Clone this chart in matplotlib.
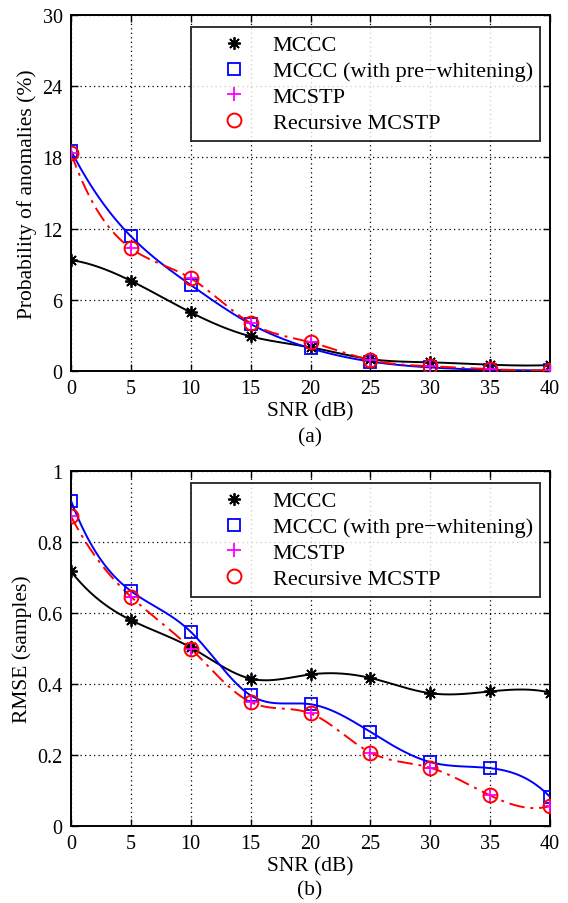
import numpy as np
import matplotlib
matplotlib.use("Agg")
import matplotlib.pyplot as plt
from matplotlib.lines import Line2D

plt.rcParams['font.family'] = ['Liberation Serif', 'DejaVu Serif']
plt.rcParams['mathtext.fontset'] = 'stix'

snr = [0, 5, 10, 15, 20, 25, 30, 35, 40]

# (a) Probability of anomalies (%)
pa_mccc = [9.35, 7.6, 4.94, 2.92, 2.0, 1.0, 0.73, 0.53, 0.5]
pa_mccc_pw = [18.57, 11.35, 7.25, 3.96, 1.91, 0.8, 0.3, 0.1, 0.05]
pa_mcstp = [18.37, 10.34, 7.81, 4.04, 2.42, 0.93, 0.4, 0.15, 0.05]
pa_rmcstp = [18.37, 10.34, 7.81, 4.04, 2.42, 0.93, 0.4, 0.15, 0.05]

# (b) RMSE (samples)
rm_mccc = [0.717, 0.58, 0.503, 0.415, 0.427, 0.417, 0.374, 0.379, 0.376]
rm_mccc_pw = [0.916, 0.662, 0.547, 0.368, 0.343, 0.265, 0.18, 0.163, 0.082]
rm_mcstp = [0.872, 0.646, 0.5, 0.349, 0.317, 0.207, 0.164, 0.086, 0.056]
rm_rmcstp = [0.872, 0.646, 0.5, 0.349, 0.317, 0.207, 0.164, 0.086, 0.056]

labels = ['MCCC', 'MCCC (with pre\u2212whitening)', 'MCSTP', 'Recursive MCSTP']
ytick_a = [0, 6, 12, 18, 24, 30]
ytick_b = [0, 0.2, 0.4, 0.6, 0.8, 1]
ytick_b_lbl = ['0', '0.2', '0.4', '0.6', '0.8', '1']


def spline_nak(x, y, xs):
    """Not-a-knot cubic spline (like MATLAB's spline) for drawing smooth curves."""
    x = np.asarray(x, float)
    y = np.asarray(y, float)
    n = len(x)
    m = n - 1
    A = np.zeros((4 * m, 4 * m))
    b = np.zeros(4 * m)
    r = 0
    for i in range(m):
        h = x[i + 1] - x[i]
        A[r, 4 * i] = 1; b[r] = y[i]; r += 1
        A[r, 4 * i:4 * i + 4] = [1, h, h ** 2, h ** 3]; b[r] = y[i + 1]; r += 1
    for i in range(m - 1):
        h = x[i + 1] - x[i]
        A[r, 4 * i:4 * i + 4] = [0, 1, 2 * h, 3 * h ** 2]
        A[r, 4 * (i + 1) + 1] = -1; r += 1
        A[r, 4 * i:4 * i + 4] = [0, 0, 2, 6 * h]
        A[r, 4 * (i + 1) + 2] = -2; r += 1
    A[r, 4 * 0 + 3] = 1; A[r, 4 * 1 + 3] = -1; r += 1
    A[r, 4 * (m - 2) + 3] = 1; A[r, 4 * (m - 1) + 3] = -1; r += 1
    c = np.linalg.solve(A, b)
    ys = np.zeros_like(xs)
    for k, xv in enumerate(xs):
        i = min(max(np.searchsorted(x, xv) - 1, 0), m - 1)
        t = xv - x[i]
        a0, a1, a2, a3 = c[4 * i:4 * i + 4]
        ys[k] = a0 + a1 * t + a2 * t ** 2 + a3 * t ** 3
    return ys


fig = plt.figure(figsize=(5.68, 9.04), dpi=100)
ax1 = fig.add_axes([71 / 568, 1 - 372 / 904, 479 / 568, 356 / 904])
ax2 = fig.add_axes([71 / 568, 1 - 827 / 904, 479 / 568, 355 / 904])

xs = np.linspace(0, 40, 400)


def draw(ax, d_mccc, d_pw, d_mcstp, d_rmcstp):
    ax.plot(xs, spline_nak(snr, d_mccc, xs), color='black', lw=1.4, zorder=3)
    ax.plot(snr, d_mccc, ls='none', marker=(8, 2, 0), ms=9, mec='black', mew=1.3, zorder=4)
    ax.plot(xs, spline_nak(snr, d_pw, xs), color='#0000ff', lw=1.4, zorder=3)
    ax.plot(snr, d_pw, ls='none', marker='s', ms=8, mfc='none', mec='#0000ff', mew=1.3, zorder=4)
    ax.plot(xs, spline_nak(snr, d_rmcstp, xs), color='#ff0000', lw=1.4, ls=(0, (8, 3, 1.5, 3)), zorder=3)
    ax.plot(snr, d_mcstp, ls='none', marker='+', ms=10, mec='#ff00ff', mew=1.3, zorder=5)
    ax.plot(snr, d_rmcstp, ls='none', marker='o', ms=10, mfc='none', mec='#ff0000', mew=1.4, zorder=5)
    ax.set_xlim(0, 40)
    ax.set_xticks(snr)
    ax.grid(True, color='black', ls=(0, (1, 2.6)), lw=0.9)
    ax.tick_params(direction='in', top=True, right=True, length=5, width=1.0, labelsize=14.5, pad=6)
    for s in ax.spines.values():
        s.set_linewidth(1.4)
    ax.set_xlabel('SNR (dB)', fontsize=15.5, labelpad=2)
    handles = [
        Line2D([], [], ls='none', marker=(8, 2, 0), ms=9, mec='black', mew=1.3),
        Line2D([], [], ls='none', marker='s', ms=8, mfc='none', mec='#0000ff', mew=1.3),
        Line2D([], [], ls='none', marker='+', ms=10, mec='#ff00ff', mew=1.3),
        Line2D([], [], ls='none', marker='o', ms=10, mfc='none', mec='#ff0000', mew=1.4),
    ]
    leg = ax.legend(handles, labels, loc='upper right', bbox_to_anchor=(0.98, 0.966),
                    fontsize=16, frameon=True, fancybox=False, edgecolor='black',
                    borderpad=0.35, labelspacing=0.24, handlelength=3.1, handletextpad=0.2,
                    borderaxespad=0)
    leg.get_frame().set_linewidth(1.4)


draw(ax1, pa_mccc, pa_mccc_pw, pa_mcstp, pa_rmcstp)
ax1.set_ylim(0, 30)
ax1.set_yticks(ytick_a)
ax1.set_ylabel('Probability of anomalies (%)', fontsize=15.5, labelpad=4)

draw(ax2, rm_mccc, rm_mccc_pw, rm_mcstp, rm_rmcstp)
ax2.set_ylim(0, 1)
ax2.set_yticks(ytick_b)
ax2.set_yticklabels(ytick_b_lbl)
ax2.set_ylabel('RMSE (samples)', fontsize=15.5, labelpad=4)

fig.text(310 / 568, 1 - 438 / 904, '(a)', ha='center', va='center', fontsize=15.5)
fig.text(310 / 568, 1 - 891 / 904, '(b)', ha='center', va='center', fontsize=15.5)

fig.savefig('out.png', dpi=100)
